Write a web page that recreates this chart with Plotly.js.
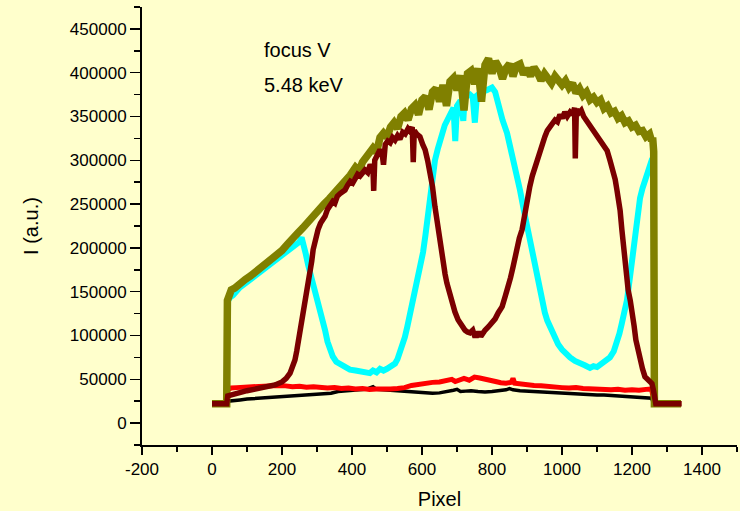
<!DOCTYPE html>
<html>
<head>
<meta charset="utf-8">
<script src="https://cdn.plot.ly/plotly-3.0.1.min.js"></script>
<style>html,body{margin:0;padding:0;background:#FFFFCC;}#chart{width:740px;height:511px;}</style>
</head>
<body>
<div id="chart"></div>
<script>
// ---- data ----
var blackX = [0,42,45,60,80,100,120,140,160,180,200,220,240,260,280,300,320,340,360,380,400,420,440,450,460,470,490,510,530,550,570,590,610,630,650,670,690,700,710,725,740,760,780,800,820,840,850,860,880,900,920,940,960,980,1000,1020,1040,1060,1080,1100,1120,1140,1160,1180,1200,1220,1240,1256,1260,1264,1340];
var blackY = [22000,22000,25000,26000,26500,27500,28000,28500,29000,29500,30000,30500,31000,31500,32000,33000,33500,34000,36000,37000,37500,38000,38500,40000,41500,38500,38000,37500,37500,37000,36500,35500,34500,34000,34500,35500,37500,38500,36000,36500,37000,36000,35500,36000,37000,38000,39500,38000,37000,36500,36000,35500,35000,34500,34000,34000,33500,33000,32500,32000,32000,31500,31000,30500,30500,30000,29500,28500,24000,22000,22000];

var redX = [0,42,45,55,70,90,110,130,150,170,190,210,230,250,270,290,310,330,350,370,390,410,430,450,470,490,510,530,550,570,590,610,630,650,670,685,695,705,720,735,750,765,780,795,810,825,840,855,860,865,880,900,920,940,960,980,1000,1020,1040,1060,1080,1100,1120,1140,1160,1180,1200,1220,1240,1256,1260,1264,1340];
var redY = [22000,22000,38000,40000,40500,41000,41500,42000,42500,42000,43000,42500,41500,42000,41000,41500,40500,40000,40500,39500,40000,39000,39500,38500,39000,38500,39000,39500,40500,43000,44500,45000,46500,47000,48000,50000,47500,49500,51000,49000,52500,51500,50500,49000,47500,46000,45500,46500,51000,45500,44500,43500,43000,42500,41500,41000,40500,40000,40500,39500,39000,38500,39000,38000,38500,37500,38000,37500,38500,39000,30000,22000,22000];

var cyanX = [0,42,44,50,60,80,100,120,140,160,180,200,215,230,240,250,256,262,268,275,282,289,296,303,309,316,323,330,337,345,355,366,380,394,410,425,440,451,460,470,480,490,500,510,523,530,537,544,551,558,566,573,580,587,594,603,610,617,623,630,637,645,651,665,680,690,695,700,710,718,722,737,745,751,757,770,785,800,809,817,830,843,851,860,870,880,890,900,909,917,923,930,937,944,951,958,966,975,989,1000,1010,1023,1037,1051,1065,1080,1090,1100,1109,1120,1137,1148,1157,1164,1171,1178,1186,1194,1203,1211,1217,1223,1230,1237,1245,1251,1258,1262,1264,1340];
var cyanY = [22000,22000,138000,143000,146000,155000,161000,167000,173000,178000,185000,191000,196000,200000,203000,207000,212000,204000,193000,180000,170000,158000,148000,136000,127000,116000,106000,93000,83000,76000,70000,67000,63000,61000,60000,59000,58000,57000,60000,58000,62000,60000,62000,64000,68000,73000,80000,89000,98000,110000,125000,139000,152000,163000,175000,195000,215000,240000,262000,283000,300000,313000,322000,340000,352000,360000,322000,362000,368000,345000,372000,375000,372000,343000,374000,378000,380000,383000,378000,365000,346000,331000,318000,302000,283000,266000,245000,225000,210000,192000,181000,164000,150000,137000,126000,117000,109000,100000,90000,84000,79000,75000,71000,69000,66000,63000,65000,64000,67000,70000,75000,82000,91000,102000,114000,127000,141000,166000,196000,221000,243000,257000,268000,278000,288000,296000,302000,290000,22000,22000];

var oliveX = [0,42,44,48,55,65,80,95,110,125,140,155,170,185,200,215,230,245,260,275,290,305,320,335,350,365,380,395,410,420,430,445,460,470,480,490,500,510,520,530,540,550,560,570,580,590,600,610,620,630,640,650,660,670,680,690,700,710,720,730,740,750,760,770,780,790,800,810,820,830,840,850,860,870,880,890,900,910,920,930,940,950,960,970,980,990,1000,1010,1020,1030,1040,1050,1060,1070,1080,1090,1100,1110,1120,1130,1140,1150,1160,1170,1180,1190,1200,1210,1220,1230,1240,1250,1256,1259,1262,1264,1340];
var oliveY = [22000,22000,140000,148000,152000,154000,160000,164000,168000,173000,178000,182000,187000,191000,197000,204000,212000,217000,223000,229000,238000,244000,250000,256000,262000,268000,276000,283000,292000,288000,298000,305000,314000,309000,326000,331000,326000,338000,343000,336000,350000,354000,346000,359000,363000,352000,369000,373000,358000,378000,382000,367000,386000,362000,390000,394000,380000,397000,357000,399000,402000,387000,405000,367000,409000,416000,399000,413000,406000,393000,405000,410000,396000,408000,410000,398000,405000,396000,406000,400000,391000,399000,394000,388000,396000,391000,386000,391000,383000,388000,377000,382000,374000,378000,369000,372000,366000,369000,359000,362000,354000,356000,348000,351000,343000,345000,338000,340000,333000,334000,327000,330000,322000,326000,310000,22000,22000];

var darkredX = [0,42,45,60,80,100,120,140,160,180,200,212,223,230,237,242,246,251,257,262,266,271,276,280,285,289,295,303,310,316,323,330,337,345,351,358,366,373,380,388,395,402,409,416,423,430,437,445,452,460,462,465,472,480,486,490,495,502,509,516,523,530,537,545,552,560,566,572,575,578,585,594,602,609,616,623,630,637,646,653,660,666,671,678,686,694,703,712,723,730,737,745,750,757,762,768,775,780,790,800,809,818,829,838,846,853,860,866,871,878,886,893,900,908,915,923,930,937,944,951,958,966,973,980,987,994,1001,1008,1015,1023,1030,1036,1038,1041,1048,1055,1062,1069,1076,1083,1090,1100,1109,1120,1129,1137,1146,1152,1157,1162,1166,1171,1176,1180,1185,1189,1195,1200,1206,1211,1217,1223,1230,1237,1245,1252,1257,1261,1264,1268,1342];
var darkredY = [22000,22000,31000,33000,35000,37000,38500,40000,41500,43500,47000,51000,57000,64000,72000,82000,91000,106000,121000,134000,144000,155000,164000,171000,185000,198000,210000,221000,228000,232000,236000,244000,248000,253000,251000,259000,262000,265000,266000,272000,276000,274000,280000,284000,282000,287000,289000,286000,295000,290000,265000,300000,306000,312000,308000,295000,318000,322000,320000,326000,323000,328000,324000,332000,330000,336000,333000,338000,298000,334000,330000,327000,318000,312000,300000,286000,270000,247000,221000,198000,183000,170000,160000,148000,137000,127000,118000,112000,106000,104000,103000,106000,100000,100000,104000,99000,104000,106000,110000,114000,119000,126000,133000,145000,155000,166000,178000,190000,201000,211000,221000,240000,258000,270000,282000,293000,303000,311000,320000,327000,334000,339000,343000,346000,344000,352000,348000,355000,350000,355000,352000,360000,302000,358000,354000,357000,350000,346000,341000,336000,332000,326000,322000,317000,311000,300000,289000,278000,266000,254000,243000,221000,200000,183000,166000,152000,140000,129000,111000,95000,83000,72000,62000,53000,49000,47000,45000,38000,26000,22000,22000];

var xTickVals = [-200,0,200,400,600,800,1000,1200,1400];
var xTickText = ["-200","0","200","400","600","800","1000","1200","1400"];
var yTickVals = [0,50000,100000,150000,200000,250000,300000,350000,400000,450000];
var yTickText = ["0","50000","100000","150000","200000","250000","300000","350000","400000","450000"];

function tr(x, y, color, w) {
  return {x: x, y: y, type: 'scatter', mode: 'lines',
          line: {color: color, width: w}, hoverinfo: 'skip', showlegend: false};
}

var traces = [
  tr(blackX, blackY, '#000000', 3.5),
  tr(redX, redY, '#FF0000', 5),
  tr(cyanX, cyanY, '#00FFFF', 6),
  tr(oliveX, oliveY, '#808000', 7.5),
  tr(darkredX, darkredY, '#7A0000', 5.5)
];

var fam = '"Liberation Sans", Arial, sans-serif';

var layout = {
  width: 740, height: 511,
  margin: {l: 142, r: 3, t: 7, b: 66, pad: 0},
  paper_bgcolor: '#FFFFCC', plot_bgcolor: '#FFFFCC',
  showlegend: false,
  font: {family: fam, size: 17, color: '#000000'},
  xaxis: {
    range: [-200, 1500], showgrid: false, zeroline: false,
    showline: true, linecolor: '#000000', linewidth: 2,
    ticks: 'outside', ticklen: 8, tickwidth: 1.5, tickcolor: '#000000',
    tickvals: xTickVals, ticktext: xTickText,
    tickfont: {family: fam, size: 17, color: '#000000'},
    minor: {dtick: 100, tick0: 0, ticks: 'outside', ticklen: 5, tickwidth: 1.5, tickcolor: '#000000', showgrid: false},
    title: {text: 'Pixel', font: {family: fam, size: 20, color: '#000000'}, standoff: 14}
  },
  yaxis: {
    range: [-25000, 475000], showgrid: false, zeroline: false,
    showline: true, linecolor: '#000000', linewidth: 2,
    ticks: 'outside', ticklen: 10, tickwidth: 1.5, tickcolor: '#000000',
    tickvals: yTickVals, ticktext: yTickText,
    tickfont: {family: fam, size: 17, color: '#000000'},
    minor: {dtick: 25000, tick0: 0, ticks: 'outside', ticklen: 6, tickwidth: 1.5, tickcolor: '#000000', showgrid: false},
    title: {text: 'I (a.u.)', font: {family: fam, size: 20, color: '#000000'}, standoff: 26}
  },
  annotations: [
    {x: 143, y: 426000, xref: 'x', yref: 'y', text: 'focus V', showarrow: false, xanchor: 'left', yanchor: 'middle',
     font: {family: fam, size: 20, color: '#000000'}},
    {x: 143, y: 386000, xref: 'x', yref: 'y', text: '5.48 keV', showarrow: false, xanchor: 'left', yanchor: 'middle',
     font: {family: fam, size: 20, color: '#000000'}}
  ]
};

Plotly.newPlot('chart', traces, layout, {displayModeBar: false, staticPlot: true});
</script>
</body>
</html>
